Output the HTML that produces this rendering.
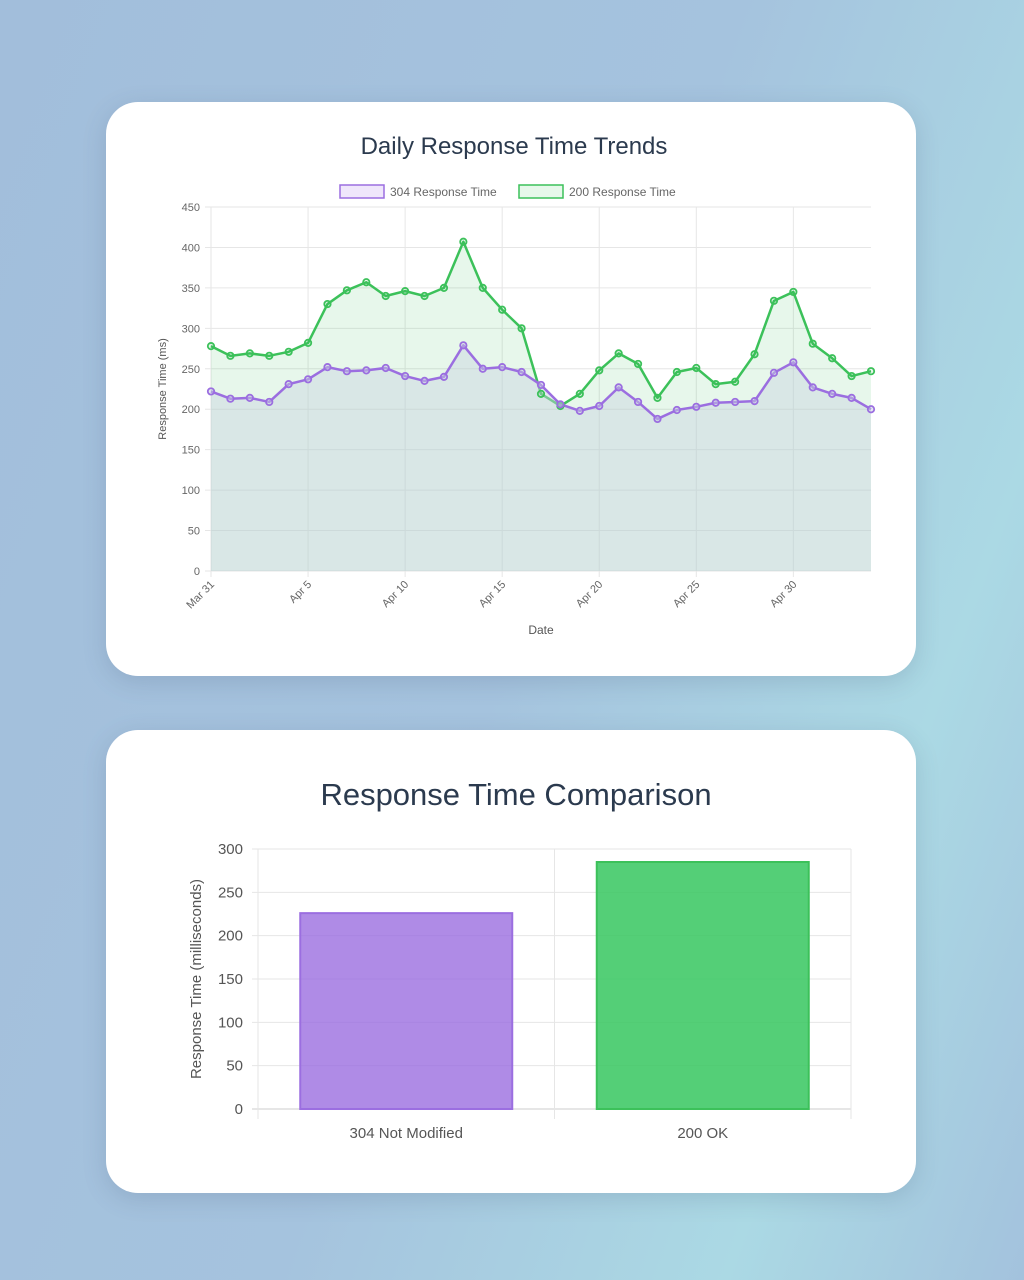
<!DOCTYPE html>
<html><head><meta charset="utf-8"><style>
body{margin:0;width:1024px;height:1280px;overflow:hidden;background:linear-gradient(110deg,#a2bedb 0%,#a5c3de 50%,#abd9e4 80%,#a3c2dd 100%);font-family:"Liberation Sans",sans-serif;}
.card{position:absolute;left:106px;width:810px;background:#fff;border-radius:32px;box-shadow:0 6px 24px rgba(60,80,110,.18);}
svg text{font-family:"Liberation Sans",sans-serif;}
</style></head><body>
<div class="card" style="top:102px;height:574px"></div>
<div class="card" style="top:730px;height:463px"></div>
<svg id="s" width="1024" height="1280" style="position:absolute;left:0;top:0">
<text x="514" y="154" text-anchor="middle" font-size="24" fill="#2b3a4e">Daily Response Time Trends</text>
<g><rect x="340" y="185" width="44" height="13" fill="#efe6fb" stroke="#9b6ee0" stroke-width="1.5"/><text x="390" y="196" font-size="12" fill="#666">304 Response Time</text></g>
<g><rect x="519" y="185" width="44" height="13" fill="#e6f8ea" stroke="#3cc15a" stroke-width="1.5"/><text x="569" y="196" font-size="12" fill="#666">200 Response Time</text></g>
<text transform="translate(166,389) rotate(-90)" text-anchor="middle" font-size="11" fill="#555">Response Time (ms)</text>
<text x="541" y="634" text-anchor="middle" font-size="12" fill="#555">Date</text>
<g id="g1"></g>
<text x="516" y="805" text-anchor="middle" font-size="31" fill="#2b3a4e">Response Time Comparison</text>
<text transform="translate(201,979) rotate(-90)" text-anchor="middle" font-size="15" fill="#555">Response Time (milliseconds)</text>
<g id="g2"></g>
</svg>
<script>
const dayLabels=["Mar 31","Apr 5","Apr 10","Apr 15","Apr 20","Apr 25","Apr 30"];
const yTicks=[0,50,100,150,200,250,300,350,400,450];
const s304=[222,213,214,209,231,237,252,247,248,251,241,235,240,279,250,252,246,230,206,198,204,227,209,188,199,203,208,209,210,245,258,227,219,214,200];
const s200=[278,266,269,266,271,282,330,347,357,340,346,340,350,407,350,323,300,219,204,219,248,269,256,214,246,251,231,234,268,334,345,281,263,241,247];
const barCats=["304 Not Modified","200 OK"];
const barVals=[226,285];
const barTicks=[0,50,100,150,200,250,300];
const NS="http://www.w3.org/2000/svg";
function mk(p,t,a){const e=document.createElementNS(NS,t);for(const k in a)e.setAttribute(k,a[k]);p.appendChild(e);return e;}
const g1=document.getElementById('g1');
const X0=211,X1=871,Y0=571,Y1=207;
const n=s200.length;
const xs=i=>X0+(X1-X0)*i/(n-1);
const ys=v=>Y0-(Y0-Y1)*v/450;
yTicks.forEach(t=>{
 const l=mk(g1,'line',{x1:X0-6,x2:X1,y1:ys(t),y2:ys(t),stroke:'#e6e6e6'});
 
 
 const tx=mk(g1,'text',{x:200,y:ys(t)+4,'text-anchor':'end','font-size':11,fill:'#666'});tx.textContent=t;
 
 
});
dayLabels.forEach((d,k)=>{
 const x=xs(k*5);
 const l=mk(g1,'line',{x1:x,x2:x,y1:Y1,y2:Y0+6,stroke:'#e6e6e6'});
 
 
 const tx=mk(g1,'text',{transform:`translate(${x+4},${Y0+14}) rotate(-45)`,'text-anchor':'end','font-size':11,fill:'#666'});tx.textContent=d;
 
 
});
function series(arr,fill,stroke,name){
 let p=arr.map((v,i)=>`${xs(i)},${ys(v)}`).join(' L');
 const a=mk(g1,'path',{d:`M${xs(0)},${Y0} L${p} L${xs(n-1)},${Y0} Z`,fill:fill});
 
 
 const l=mk(g1,'path',{d:'M'+p,fill:'none',stroke:stroke,'stroke-width':2.5,'stroke-linejoin':'round'});
 
 
 return ()=>arr.forEach((v,i)=>{const c=mk(g1,'circle',{cx:xs(i),cy:ys(v),r:3.2,fill:fill,stroke:stroke,'stroke-width':1.8});
 
 });
}
const p2=series(s200,'rgba(60,193,90,0.12)','#3cc15a','series-200');
const p1=series(s304,'rgba(200,210,225,0.45)','#9b6ee0','series-304');
p2();p1();
const g2=document.getElementById('g2');
const BX0=258,BX1=851,BY0=1109,BY1=849;
const by=v=>BY0-(BY0-BY1)*v/300;
const bw=(BX1-BX0)/barCats.length;
barTicks.forEach(t=>{
 const l=mk(g2,'line',{x1:BX0-6,x2:BX1,y1:by(t),y2:by(t),stroke:t?'#e6e6e6':'#ccc'});
 
 
 const tx=mk(g2,'text',{x:243,y:by(t)+5,'text-anchor':'end','font-size':15,fill:'#555'});tx.textContent=t;
 
 
});
[0,1,2].forEach(k=>{const l=mk(g2,'line',{x1:BX0+k*bw,x2:BX0+k*bw,y1:BY1,y2:BY0+10,stroke:'#e6e6e6'});
 
 });
const cols=[['rgba(155,110,224,0.8)','#9b6ee0'],['rgba(60,200,100,0.88)','#3cc15a']];
barCats.forEach((c,i)=>{
 const cx=BX0+bw*(i+0.5),w=bw*0.715;
 const r=mk(g2,'rect',{x:cx-w/2,y:by(barVals[i]),width:w,height:BY0-by(barVals[i]),fill:cols[i][0],stroke:cols[i][1],'stroke-width':2});
 
 
 const tx=mk(g2,'text',{x:cx,y:1138,'text-anchor':'middle','font-size':15,fill:'#555'});tx.textContent=c;
 
 
});
</script>
</body></html>
